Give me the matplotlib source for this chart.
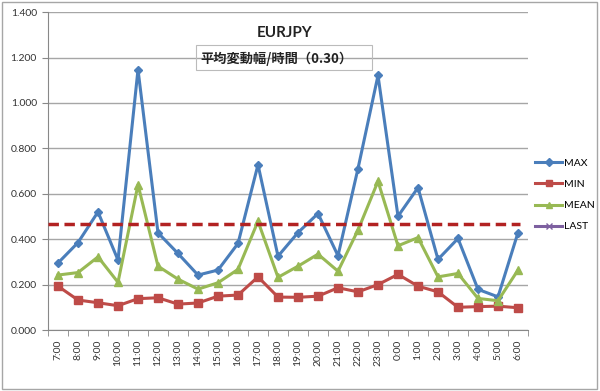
import matplotlib
matplotlib.use("Agg")
import matplotlib.pyplot as plt
from matplotlib.patches import Rectangle

plt.rcParams['font.family'] = ['Lato', 'Noto Sans CJK JP', 'DejaVu Sans']

hours = ["7:00", "8:00", "9:00", "10:00", "11:00", "12:00", "13:00", "14:00",
         "15:00", "16:00", "17:00", "18:00", "19:00", "20:00", "21:00", "22:00",
         "23:00", "0:00", "1:00", "2:00", "3:00", "4:00", "5:00", "6:00"]
max_vals = [0.295, 0.385, 0.520, 0.308, 1.147, 0.428, 0.337, 0.242,
            0.264, 0.381, 0.728, 0.325, 0.429, 0.513, 0.327, 0.711,
            1.121, 0.501, 0.627, 0.311, 0.403, 0.179, 0.146, 0.429]
min_vals = [0.193, 0.132, 0.120, 0.107, 0.138, 0.142, 0.114, 0.119,
            0.149, 0.154, 0.234, 0.145, 0.144, 0.149, 0.186, 0.168,
            0.200, 0.245, 0.193, 0.168, 0.100, 0.103, 0.105, 0.098]
mean_vals = [0.242, 0.253, 0.322, 0.210, 0.640, 0.281, 0.224, 0.180,
             0.208, 0.267, 0.479, 0.232, 0.281, 0.334, 0.259, 0.440,
             0.655, 0.371, 0.407, 0.234, 0.249, 0.139, 0.129, 0.264]
last_vals = []
ref_level = 0.467
yticks = [0.0, 0.2, 0.4, 0.6, 0.8, 1.0, 1.2, 1.4]

fig = plt.figure(figsize=(6.0, 3.91), dpi=100)
fig.patches.append(Rectangle((0.004, 0.006), 0.991, 0.99, transform=fig.transFigure,
                             fill=False, edgecolor='#a6a6a6', linewidth=1.0))
ax = fig.add_axes([0.08, 0.156, 0.80, 0.813])

x = list(range(len(hours)))
ax.plot(x, max_vals, color='#4a7ebb', lw=2.2, marker='D', ms=4.5, label='MAX', zorder=3)
ax.plot(x, min_vals, color='#be4b48', lw=2.2, marker='s', ms=5.5, label='MIN', zorder=3)
ax.plot(x, mean_vals, color='#98b954', lw=2.2, marker='^', ms=6, label='MEAN', zorder=3)
ax.plot(last_vals, last_vals, color='#7d60a0', lw=2.2, marker='x', ms=6, label='LAST')
ax.plot([-0.5, 23.1], [ref_level, ref_level], color='#b22222', lw=2.5,
        linestyle=(0, (3, 1.6)), zorder=4)

ax.set_xlim(-0.5, 23.5)
ax.set_ylim(0, 1.4)
ax.set_yticks(yticks)
ax.set_yticklabels([f"{v:.3f}" for v in yticks], fontsize=7.5, color='#333333')
ax.set_xticks(x)
ax.set_xticklabels(hours, rotation=90, fontsize=7.5, color='#333333')
ax.set_xticks([i + 0.5 for i in range(-1, 24)], minor=True)
ax.tick_params(axis='x', which='major', length=0, pad=7)
ax.tick_params(axis='x', which='minor', length=4, color='#888888')
ax.tick_params(axis='y', length=4, color='#888888', pad=4)
ax.grid(axis='y', color='#a6a6a6', lw=1.0)
ax.set_axisbelow(True)
for s in ['top', 'right']:
    ax.spines[s].set_visible(False)
ax.spines['left'].set_color('#888888')
ax.spines['bottom'].set_color('#888888')

fig.text(0.475, 0.915, "EURJPY", fontsize=11, fontweight='bold', ha='center', va='center',
         color='#222222')
fig.text(0.46, 0.85, "平均変動幅/時間（0.30）", fontsize=9.5, fontweight='bold',
         ha='center', va='center', color='#222222',
         family=['Noto Sans CJK JP', 'DejaVu Sans'])
fig.patches.append(Rectangle((0.327, 0.82), 0.293, 0.065, transform=fig.transFigure,
                             fill=False, edgecolor='#bbbbbb', linewidth=0.8))

leg = ax.legend(loc='center left', bbox_to_anchor=(0.995, 0.425), frameon=False,
                fontsize=7.5, handlelength=2.6, labelspacing=1.15, handletextpad=0.2,
                markerscale=0.8)

fig.savefig("out.png", dpi=100)
